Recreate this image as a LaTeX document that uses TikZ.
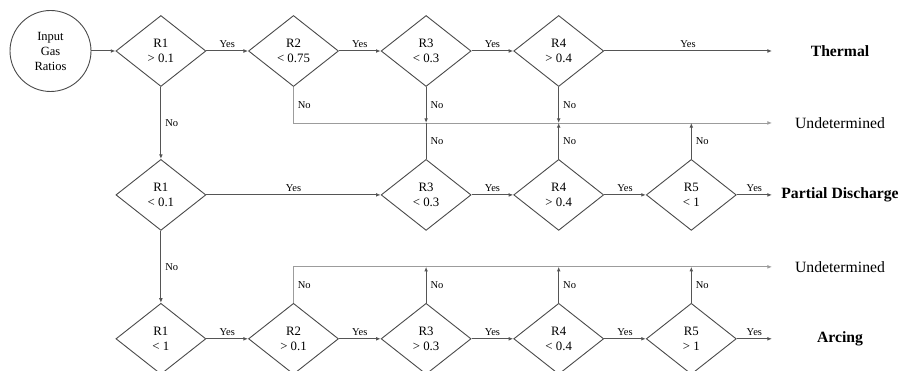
\documentclass[tikz,border=0pt]{standalone}
\usepackage{fontspec}
\setmainfont{Liberation Serif}
\usetikzlibrary{arrows.meta,calc,positioning,shapes.geometric}
\definecolor{FlowInk}{HTML}{555555}
\definecolor{ShapeInk}{HTML}{4A4A4A}
\definecolor{UndetInk}{HTML}{9C9C9C}
\tikzset{
  >={Latex[length=4.6pt,width=3.8pt]},
  flow/.style={->,line width=1pt,draw=FlowInk},
  flowline/.style={line width=1pt,draw=FlowInk},
  undetflow/.style={->,line width=0.8pt,draw=UndetInk},
  decision/.style={diamond,draw=ShapeInk,line width=0.9pt,minimum width=90pt,
    minimum height=71pt,inner sep=0pt,align=center,
    font=\fontsize{12.8}{15.5}\selectfont},
  inputnode/.style={circle,draw=ShapeInk,line width=0.9pt,minimum size=81pt,
    inner sep=0pt,align=center,font=\fontsize{12.5}{15}\selectfont},
  yeslabel/.style={above,inner sep=3pt,font=\fontsize{10.5}{12}\selectfont},
  nolabel/.style={right,inner sep=4pt,font=\fontsize{10.5}{12}\selectfont},
  outcome/.style={font=\fontsize{15.7}{18}\selectfont\bfseries},
  plainoutcome/.style={font=\fontsize{15.7}{18}\selectfont}
}

\begin{document}
\begin{tikzpicture}[node distance=41.7pt]
    \useasboundingbox (0,0) rectangle (903pt,-371pt);

    \node[inputnode] (gas) at (50.5pt,-51pt) {Input\\Gas\\Ratios};

    % first row: thermal
    \node[decision,right=24pt of gas] (r1a) {R1\\> 0.1};
    \node[decision,right=of r1a] (r2a) {R2\\< 0.75};
    \node[decision,right=of r2a] (r3a) {R3\\< 0.3};
    \node[decision,right=of r3a] (r4a) {R4\\> 0.4};

    % second row: partial discharge
    \node[decision,below=72pt of r1a] (r1b) {R1\\< 0.1};
    \node[decision,below=72pt of r3a] (r3b) {R3\\< 0.3};
    \node[decision,below=72pt of r4a] (r4b) {R4\\> 0.4};
    \node[decision,right=of r4b] (r5b) {R5\\< 1};

    % third row: arcing
    \node[decision,below=72pt of r1b] (r1c) {R1\\< 1};
    \node[decision,right=of r1c] (r2c) {R2\\> 0.1};
    \node[decision,right=of r2c] (r3c) {R3\\> 0.3};
    \node[decision,right=of r3c] (r4c) {R4\\< 0.4};
    \node[decision,right=of r4c] (r5c) {R5\\> 1};

    \coordinate (outx) at (772pt,0);
    \coordinate (labx) at (840pt,0);
    \coordinate (undA) at ($(r1a.south)!.5!(r1b.north)$);
    \coordinate (undB) at ($(r1b.south)!.5!(r1c.north)$);

    \node[outcome] (thermal) at (r4a -| labx) {Thermal};
    \node[plainoutcome] (undet1) at (undA -| labx) {Undetermined};
    \node[outcome] (pd) at (r5b -| labx) {Partial Discharge};
    \node[plainoutcome] (undet2) at (undB -| labx) {Undetermined};
    \node[outcome] (arcing) at (r5c -| labx) {Arcing};

    \draw[flow] (gas) -- (r1a);
    \draw[flow] (r1a) -- node[yeslabel] {Yes} (r2a);
    \draw[flow] (r2a) -- node[yeslabel] {Yes} (r3a);
    \draw[flow] (r3a) -- node[yeslabel] {Yes} (r4a);
    \draw[flow] (r4a) -- node[yeslabel] {Yes} (r4a -| outx);

    \draw[flow] (r1a) -- node[nolabel] {No} (r1b);
    \draw[undetflow] (r2a.south) -- node[nolabel] {No} (r2a.south |- undA) -- (undA -| outx);
    \draw[flow] (r3a.south) -- node[nolabel] {No} (r3a.south |- undA);
    \draw[flow] (r4a.south) -- node[nolabel] {No} (r4a.south |- undA);

    \draw[flow] (r1b) -- node[yeslabel] {Yes} (r3b);
    \draw[flow] (r3b) -- node[yeslabel] {Yes} (r4b);
    \draw[flow] (r4b) -- node[yeslabel] {Yes} (r5b);
    \draw[flow] (r5b) -- node[yeslabel] {Yes} (r5b -| outx);

    \draw[flowline] (r3b.north) -- node[nolabel] {No} (r3b.north |- undA);
    \draw[flow] (r4b.north) -- node[nolabel] {No} (r4b.north |- undA);
    \draw[flow] (r5b.north) -- node[nolabel] {No} (r5b.north |- undA);

    \draw[flow] (r1b) -- node[nolabel] {No} (r1c);

    \draw[flow] (r1c) -- node[yeslabel] {Yes} (r2c);
    \draw[flow] (r2c) -- node[yeslabel] {Yes} (r3c);
    \draw[flow] (r3c) -- node[yeslabel] {Yes} (r4c);
    \draw[flow] (r4c) -- node[yeslabel] {Yes} (r5c);
    \draw[flow] (r5c) -- node[yeslabel] {Yes} (r5c -| outx);

    \draw[undetflow] (r2c.north) -- node[nolabel] {No} (r2c.north |- undB) -- (undB -| outx);
    \draw[flow] (r3c.north) -- node[nolabel] {No} (r3c.north |- undB);
    \draw[flow] (r4c.north) -- node[nolabel] {No} (r4c.north |- undB);
    \draw[flow] (r5c.north) -- node[nolabel] {No} (r5c.north |- undB);
\end{tikzpicture}
\end{document}
